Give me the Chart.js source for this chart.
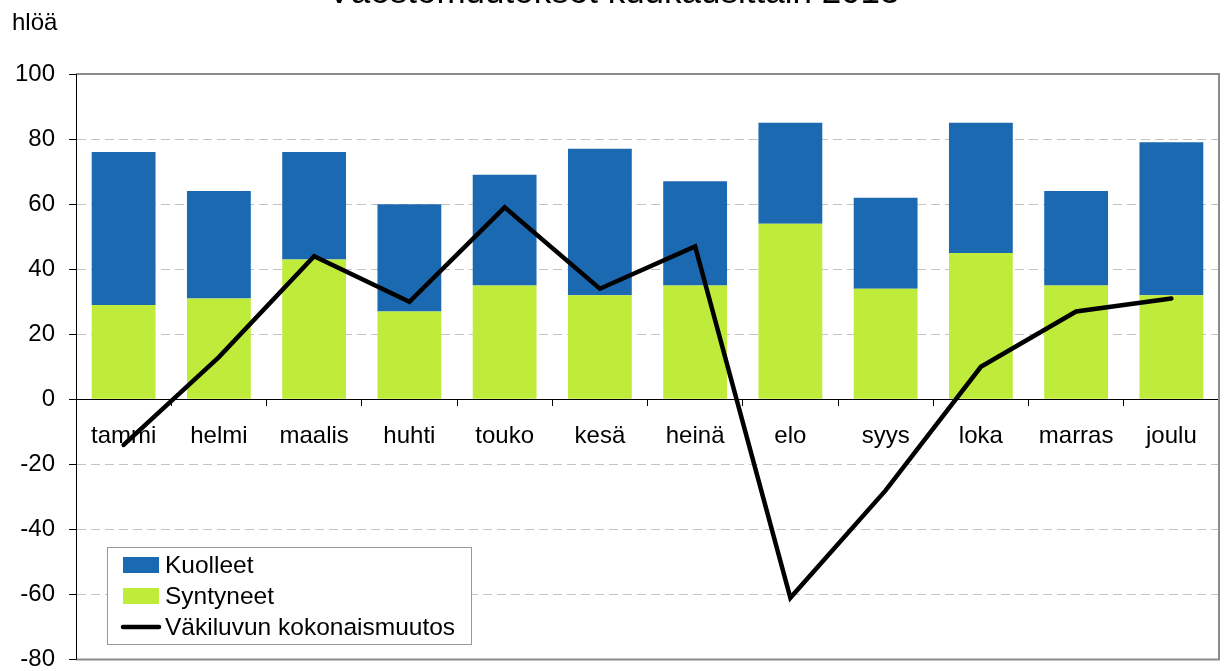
<!DOCTYPE html>
<html>
<head>
<meta charset="utf-8">
<script src="https://cdn.jsdelivr.net/npm/chart.js@4/dist/chart.umd.min.js"></script>
<style>
  html, body { margin: 0; padding: 0; background: #fff; overflow: hidden; }
  #wrap { position: absolute; left: 0; top: -28px; width: 1227px; height: 716px; }
</style>
</head>
<body>
<div id="wrap"><canvas id="c"></canvas></div>
<script>
const categories = ['tammi','helmi','maalis','huhti','touko','kesä','heinä','elo','syys','loka','marras','joulu'];
const syntyneet = [29, 31, 43, 27, 35, 32, 35, 54, 34, 45, 35, 32];
const kuolleet  = [47, 33, 33, 33, 34, 45, 32, 31, 28, 40, 29, 47];
const muutos    = [-14, 13, 44, 30, 59, 34, 47, -61, -28, 10, 27, 31];
const yTicks = [-80, -60, -40, -20, 0, 20, 40, 60, 80, 100];
const titleText = 'Väestömuutokset kuukausittain 2013';
const yUnit = 'hlöä';

const OFF = 28;
const FONT = 'Liberation Sans, Arial, sans-serif';
const BLUE = '#1A69B1';
const GREEN = '#BFEB3A';

const extras = {
  id: 'extras',
  afterDraw(chart) {
    const ctx = chart.ctx;
    const a = chart.chartArea;
    ctx.save();
    ctx.strokeStyle = '#8c8c8c';
    ctx.lineWidth = 2;
    ctx.beginPath();
    ctx.moveTo(a.left, a.top);
    ctx.lineTo(a.right, a.top);
    ctx.lineTo(a.right, a.bottom);
    ctx.lineTo(a.left, a.bottom);
    ctx.stroke();
    ctx.strokeStyle = '#000';
    ctx.lineWidth = 1;
    ctx.beginPath();
    ctx.moveTo(a.left + 0.5, a.top);
    ctx.lineTo(a.left + 0.5, a.bottom);
    ctx.stroke();
    ctx.fillStyle = '#000';
    ctx.font = '24px ' + FONT;
    ctx.textBaseline = 'alphabetic';
    ctx.textAlign = 'left';
    ctx.fillText(yUnit, 12, 30 + OFF);
    const lx = 107, ly = 547 + OFF, lw = 364, lh = 97;
    ctx.fillStyle = '#fff';
    ctx.fillRect(lx, ly, lw, lh);
    ctx.strokeStyle = '#999';
    ctx.lineWidth = 1;
    ctx.strokeRect(lx + 0.5, ly + 0.5, lw, lh);
    const ds = chart.data.datasets;
    const items = [ds[2], ds[1], ds[0]];
    const baselines = [573, 604, 635];
    items.forEach((d, i) => {
      const b = baselines[i] + OFF;
      if (d.type === 'line') {
        ctx.strokeStyle = d.borderColor;
        ctx.lineWidth = 4.5;
        ctx.lineCap = 'round';
        ctx.beginPath();
        ctx.moveTo(123, b - 8);
        ctx.lineTo(159, b - 8);
        ctx.stroke();
      } else {
        ctx.fillStyle = d.backgroundColor;
        ctx.fillRect(123, b - 16, 36, 16);
      }
      ctx.fillStyle = '#000';
      ctx.font = '24.5px ' + FONT;
      ctx.fillText(d.label, 165, b);
    });
    ctx.restore();
  }
};

new Chart(document.getElementById('c'), {
  data: {
    labels: categories,
    datasets: [
      { type: 'line', label: 'Väkiluvun kokonaismuutos', data: muutos, borderColor: '#000', backgroundColor: '#000',
        borderWidth: 4.5, pointRadius: 0, tension: 0, borderJoinStyle: 'miter', borderCapStyle: 'round', stack: 'line' },
      { type: 'bar', label: 'Syntyneet', data: syntyneet, backgroundColor: GREEN, stack: 's',
        barPercentage: 0.67, categoryPercentage: 1.0 },
      { type: 'bar', label: 'Kuolleet', data: kuolleet, backgroundColor: BLUE, stack: 's',
        barPercentage: 0.67, categoryPercentage: 1.0 }
    ]
  },
  options: {
    responsive: true,
    maintainAspectRatio: false,
    animation: false,
    layout: { padding: { left: 8, right: 8, top: 0, bottom: 12 } },
    plugins: {
      legend: { display: false },
      tooltip: { enabled: false },
      title: {
        display: true, text: titleText, color: '#000',
        font: { family: FONT, size: 35, weight: 'normal' },
        padding: { top: 0, bottom: 60 }
      }
    },
    scales: {
      x: {
        stacked: true,
        position: { y: 0 },
        offset: true,
        grid: { display: true, drawOnChartArea: false, drawTicks: true, tickLength: 6, tickColor: '#000', offset: true },
        border: { display: true, color: '#000', width: 1 },
        ticks: { color: '#000', font: { family: FONT, size: 24 }, padding: 17, maxRotation: 0, autoSkip: false }
      },
      y: {
        stacked: true,
        min: -80, max: 100,
        afterFit(scale) { scale.width = 68; },
        afterBuildTicks(scale) { scale.ticks = yTicks.map(v => ({ value: v })); },
        grid: {
          color: (c) => (c.tick && (c.tick.value === 0 || c.tick.value === 100 || c.tick.value === -80)) ? 'rgba(0,0,0,0)' : '#c4c4c4',
          lineWidth: 1, tickLength: 7, tickColor: '#000', tickBorderDash: [], drawTicks: true
        },
        border: { display: true, color: '#000', width: 1, dash: [9, 5] },
        ticks: { color: '#000', font: { family: FONT, size: 24 }, padding: 14, callback: (v) => String(v) }
      }
    }
  },
  plugins: [extras]
});
</script>
</body>
</html>
